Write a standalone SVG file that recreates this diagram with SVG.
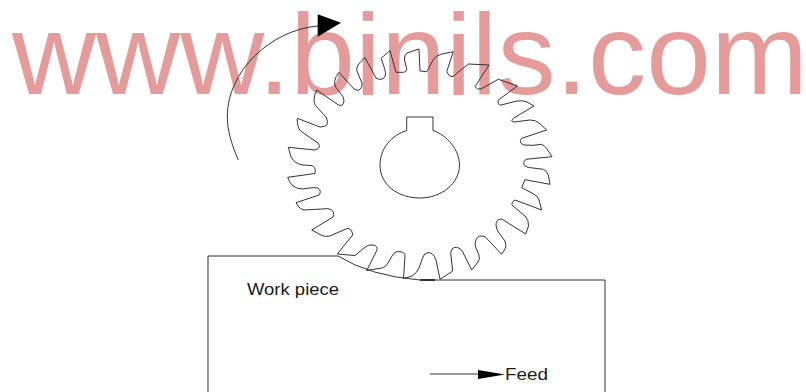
<svg xmlns="http://www.w3.org/2000/svg" width="806" height="392" viewBox="0 0 806 392">
<style>
.l{fill:none;stroke:#333;stroke-width:1;stroke-linejoin:round}
.t{font-family:"Liberation Sans",Arial,sans-serif;fill:#1a1a1a;font-size:16.5px}
.w{font-family:"Liberation Sans",Arial,sans-serif;fill:#e69b9b;font-size:115px}
</style>
<rect width="806" height="392" fill="#fff"/>
<text id="watermark" class="w" x="12" y="94" textLength="796" lengthAdjust="spacingAndGlyphs">www.binils.com</text>
<g id="gear">
<path class="l" d="M287.7,177.3 L315,173.5 Q316.5,166 311,165.5 L303,165 Q295,164 291,157 L288.3,147.3 L315,150 Q322,148 318,143 L300.5,131 Q297,127 297.3,118.3 L320,127 Q331,127 326,117 L315.5,105.5 Q312,100 316.7,90 L337,104 Q343,108 344,101 Q344,97 341,94 L336,87.5 Q332,81 339,72.3 L354,89 Q361,93 362.3,84 L357,71 Q355,66 365,57.7 L376,78 Q383,82 385.5,75 Q386,71 381,58.3 L390,50.7 L396,72.3 L403.3,72.3 Q407.5,72 406.5,68 L404.5,60 Q404,55 407,53 L419,49 L420,71 L426.7,71.7 Q430,66 433,60 Q436,55 442,54 L453.3,51.7 L446.7,71.7 Q449,77 452,76.7 Q455,76 457,73 L468.3,64 L489,65 L475,86.7 Q477,90 481,89 L498.3,79.3 L517.3,86 L498.3,100 Q497,105 501,105 L517,101 Q523,100 527,102 L534,106 L513.3,118.3 Q510,122 514,122 L530,120 Q536,120 539,123 L546.7,130 L521.7,138.3 Q518,143 524,145 Q533,146 541.7,144.3 Q545,146 547,149 L552,156.7 L526,159.3 Q522,163 525,166 Q528,168 533,168 L543.3,169.3 Q547,171 548.3,175 L550,184.3 L525,179.7 L521.7,187.7 L533,193.5 Q538,196 539,200 L541.7,210 L515,200 Q510,203 513,206 L525,216 Q529,220 528.5,226 L525.7,234 L501.7,219 Q496,219 496,225 Q496,229 499,233 L505,241 Q507,246 505,249 L501.7,254.3 L485,236.7 Q478,234 476,240 Q474,244 476,248 L479,255 Q480,260 478,262 L471.7,270 L461.7,250 Q456,245 452,249 Q450,252 451,256 L452.7,271 L440,279.3 L436,260 Q433,252 428,252.7 Q424,253 423,257 L419,268 Q417,273 412,276 L403.5,278.5 L405,256 Q405,252 400,251.7 L397,251.7 Q394,252 392,256 L388,263 Q386,267 382,268 L366.7,270.5 L377,250 Q378,246 373.3,245 Q368,244 364,248 L355,255.5 L337.3,254 L352.7,235 Q352,228 347,228.5 L330,236 Q325,237 322,235.5 L311.7,230 L333,217 Q335,212 331,209.5 Q328,208 322,209 L304,210 Q300,209 298,206 L296,202.7 L319,195 Q322,191 318,188 Q314,187 303,189 Q297,189 293,186 Q289,182 287.7,177.3 Z"/>
</g>
<g id="hub">
<path class="l" d="M406.7,130.5 L406.7,117 L433,117 L433,130.5 C447,135 459.5,150 459.5,165 C459.5,183 442,198 420,198 C398,198 380,185 380,165 C380,148 392,135 406.7,130.5 Z"/>
</g>
<g id="workpiece">
<path class="l" d="M208,392 L208,256 L338,256 Q370,276 420,280 L605,280 L605,392"/>
<path d="M420,280 L435,280" stroke="#111" stroke-width="1.5" fill="none"/>
<text class="t" x="247" y="295" textLength="92" lengthAdjust="spacingAndGlyphs">Work piece</text>
</g>
<g id="connectors">
<path class="l" d="M238.3,160 C231,143 227.3,130 227.3,116 C227.3,72 270,30 318,26"/>
<polygon points="317.7,14.3 341,22.7 317.7,36.7" fill="#000"/>
<path class="l" d="M430,374 L480,374"/>
<polygon points="478,370 505,374.5 478,379" fill="#000"/>
</g>
<text id="feed" class="t" x="505" y="380" textLength="43" lengthAdjust="spacingAndGlyphs">Feed</text>
</svg>
